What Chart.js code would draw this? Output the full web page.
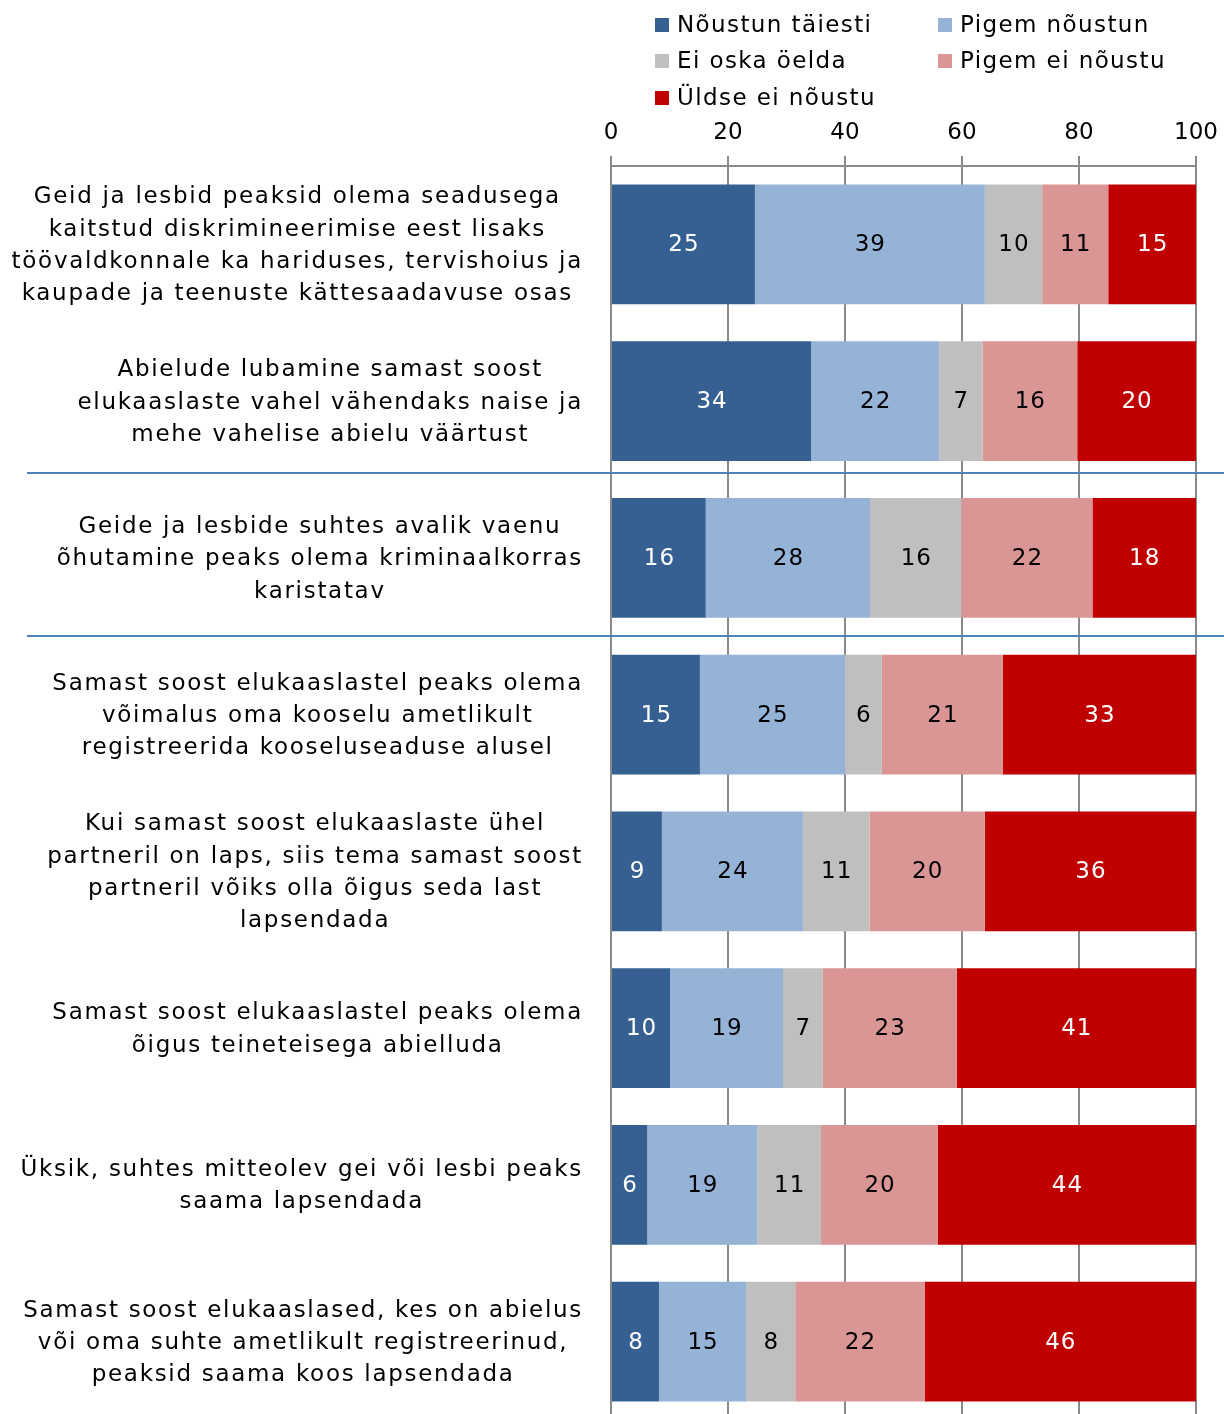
<!DOCTYPE html>
<html>
<head>
<meta charset="utf-8">
<script src="https://cdn.jsdelivr.net/npm/chart.js@4"></script>
<style>
  html, body { margin:0; padding:0; overflow:hidden; background:#fff; }
  #wrap { position:relative; width:1224px; height:1430px; }
  #legend { position:absolute; left:0; top:0; width:1224px; height:120px; font-family:'DejaVu Sans', Verdana, sans-serif; font-size:23px; color:#000; letter-spacing:1.4px; }
  .li { position:absolute; white-space:nowrap; line-height:26px; }
  .sw { display:inline-block; width:14px; height:14px; margin-right:8px; vertical-align:0px; }
</style>
</head>
<body>
<div id="wrap">
  <canvas id="c" width="1224" height="1430"></canvas>
  <div id="legend"></div>
</div>
<script>
const categories = [
  ["Geid ja lesbid peaksid olema seadusega","kaitstud diskrimineerimise eest lisaks","töövaldkonnale ka hariduses, tervishoius ja","kaupade ja teenuste kättesaadavuse osas"],
  ["Abielude lubamine samast soost","elukaaslaste vahel vähendaks naise ja","mehe vahelise abielu väärtust"],
  ["Geide ja lesbide suhtes avalik vaenu","õhutamine peaks olema kriminaalkorras","karistatav"],
  ["Samast soost elukaaslastel peaks olema","võimalus oma kooselu ametlikult","registreerida kooseluseaduse alusel"],
  ["Kui samast soost elukaaslaste ühel","partneril on laps, siis tema samast soost","partneril võiks olla õigus seda last","lapsendada"],
  ["Samast soost elukaaslastel peaks olema","õigus teineteisega abielluda"],
  ["Üksik, suhtes mitteolev gei või lesbi peaks","saama lapsendada"],
  ["Samast soost elukaaslased, kes on abielus","või oma suhte ametlikult registreerinud,","peaksid saama koos lapsendada"]
];
const seriesNames = ["Nõustun täiesti","Pigem nõustun","Ei oska öelda","Pigem ei nõustu","Üldse ei nõustu"];
const noustunTaiesti = [24.6, 34.2, 16.2, 15.2, 8.7, 10.1, 6.2, 8.2];
const pigemNoustun   = [39.3, 21.9, 28.1, 24.8, 24.1, 19.3, 18.8, 14.9];
const eiOskaOelda    = [9.8, 7.4, 15.6, 6.3, 11.4, 6.8, 10.9, 8.4];
const pigemEiNoustu  = [11.3, 16.2, 22.4, 20.7, 19.7, 22.9, 20.0, 22.1];
const uldseEiNoustu  = [15.0, 20.3, 17.7, 33.0, 36.1, 40.9, 44.1, 46.4];
const xTicks = [0, 20, 40, 60, 80, 100];
const separatorsAt = [1.46, 2.5];

const colors = ["#366092", "#95B3D7", "#BFBFBF", "#DA9694", "#C00000"];
const labelColors = ["#ffffff", "#000000", "#000000", "#000000", "#ffffff"];
const FONT = "'DejaVu Sans', Verdana, sans-serif";

// legend
const legendPos = [[655,11],[938,11],[655,47],[938,47],[655,84]];
const lg = document.getElementById('legend');
seriesNames.forEach((n,i)=>{
  const d = document.createElement('div');
  d.className='li';
  d.style.left = legendPos[i][0]+'px';
  d.style.top = legendPos[i][1]+'px';
  d.innerHTML = '<span class="sw" style="background:'+colors[i]+'"></span>'+n;
  lg.appendChild(d);
});

const seriesData = [noustunTaiesti, pigemNoustun, eiOskaOelda, pigemEiNoustu, uldseEiNoustu];

const valueLabels = {
  id:'valueLabels',
  afterDatasetsDraw(chart){
    const ctx = chart.ctx;
    ctx.save();
    ctx.font = '23px ' + FONT;
    ctx.letterSpacing = '1px';
    ctx.textAlign='center'; ctx.textBaseline='middle';
    chart.data.datasets.forEach((ds,di)=>{
      const meta = chart.getDatasetMeta(di);
      meta.data.forEach((bar,i)=>{
        const p = bar.getProps(['x','base','y'], true);
        ctx.fillStyle = labelColors[di];
        ctx.fillText(String(Math.round(ds.data[i])), (p.x+p.base)/2 + 0.5, p.y+1);
      });
    });
    ctx.restore();
  }
};

const catLabels = {
  id:'catLabels',
  afterDraw(chart){
    const ctx = chart.ctx, ys = chart.scales.y;
    ctx.save();
    ctx.font = '23px ' + FONT;
    ctx.letterSpacing = '1.7px';
    ctx.fillStyle='#000';
    ctx.textAlign='center'; ctx.textBaseline='middle';
    const lh = 32.3;
    const right = chart.chartArea.left - 28;
    categories.forEach((lines,i)=>{
      const y = ys.getPixelForValue(i) + 1.5;
      const w = Math.max(...lines.map(l=>ctx.measureText(l).width));
      const cx = right - w/2;
      lines.forEach((l,k)=>{
        ctx.fillText(l, cx, y + (k - (lines.length-1)/2)*lh);
      });
    });
    ctx.restore();
  }
};

const separators = {
  id:'separators',
  afterDraw(chart){
    const ctx = chart.ctx, ys = chart.scales.y;
    ctx.save();
    ctx.strokeStyle='#4F81BD'; ctx.lineWidth=2;
    separatorsAt.forEach(v=>{
      const y = Math.round(ys.getPixelForValue(v));
      ctx.beginPath(); ctx.moveTo(27,y); ctx.lineTo(1224,y); ctx.stroke();
    });
    ctx.restore();
  }
};

new Chart(document.getElementById('c'), {
  type:'bar',
  data:{
    labels: categories.map(c=>c.join(' ')),
    datasets: seriesNames.map((n,i)=>({
      label:n, data:seriesData[i], backgroundColor:colors[i],
      borderWidth:0, categoryPercentage:1, barPercentage:0.765
    }))
  },
  options:{
    indexAxis:'y',
    responsive:false, animation:false,
    layout:{ padding:{ left:0, right:28, top:0, bottom:10 } },
    plugins:{ legend:{display:false}, tooltip:{enabled:false} },
    scales:{
      x:{
        position:'top', stacked:true, min:0, max:100,
        afterBuildTicks(s){ s.ticks = xTicks.map(v=>({value:v})); },
        afterFit(s){ s.height = 166; s.paddingRight = 0; s.paddingLeft = 0; },
        grid:{ color:'#8a8a8a', lineWidth:2, tickLength:10, drawOnChartArea:true },
        border:{ display:true, color:'#8a8a8a', width:2 },
        ticks:{ font:{ family:FONT, size:23 }, color:'#000', padding:9, maxRotation:0 }
      },
      y:{
        stacked:true,
        afterFit(s){ s.width = 611; },
        grid:{ display:false },
        border:{ display:false },
        ticks:{ display:false }
      }
    }
  },
  plugins:[valueLabels, catLabels, separators]
});
</script>
</body>
</html>
